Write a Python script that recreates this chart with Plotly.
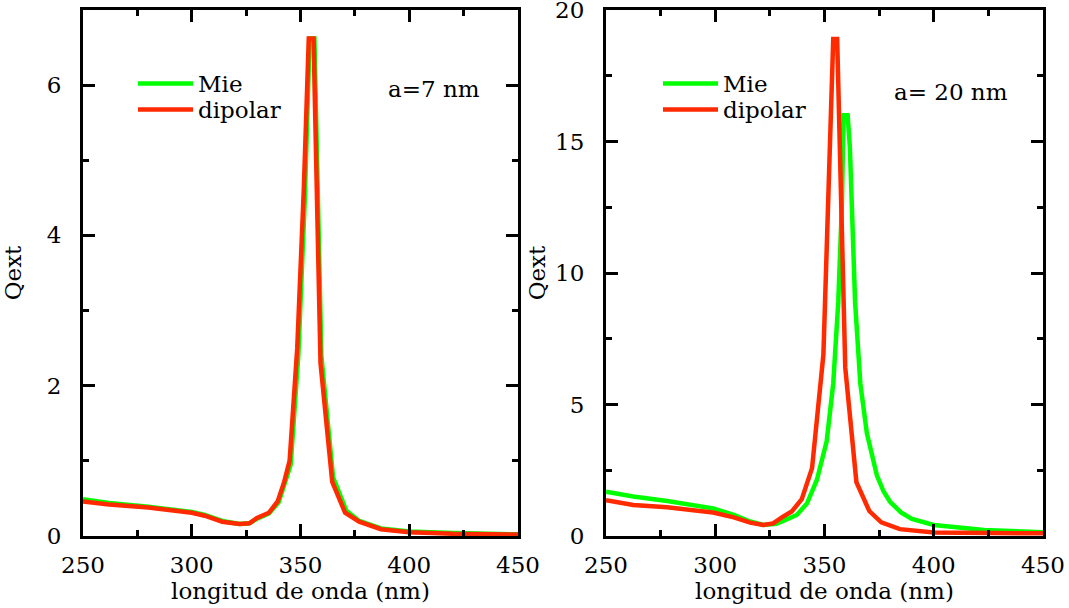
import plotly.graph_objects as go

# ---- data: a = 7 nm ----
wl_7_mie = [250, 262, 280, 300, 306, 314, 322, 326.5, 330, 335.5, 340, 343, 345.5, 349, 352, 354.2, 356.4, 359.6, 365, 371, 377, 387, 400, 420, 450]
q_7_mie = [0.49, 0.44, 0.39, 0.32, 0.28, 0.20, 0.16, 0.17, 0.23, 0.30, 0.45, 0.70, 0.95, 2.4, 4.5, 6.62, 6.62, 2.4, 0.78, 0.34, 0.20, 0.10, 0.06, 0.04, 0.02]

wl_7_dip = [250, 262, 280, 300, 306, 314, 322, 326.5, 330, 335.5, 339.5, 342.5, 345, 348.5, 351.5, 353.8, 356, 359.2, 364.6, 370.5, 377, 387, 400, 420, 450]
q_7_dip = [0.46, 0.42, 0.38, 0.31, 0.27, 0.19, 0.16, 0.17, 0.24, 0.31, 0.46, 0.72, 1.0, 2.5, 4.6, 6.62, 6.62, 2.3, 0.72, 0.31, 0.19, 0.09, 0.05, 0.03, 0.02]

# ---- data: a = 20 nm ----
wl_20_mie = [250, 262.5, 278, 293, 299, 308.5, 316, 322, 328, 332.7, 337.3, 342, 346.5, 351, 354, 356.3, 358, 358.7, 360.6, 361.6, 364, 366.4, 369.4, 374, 377, 380, 385, 390, 400, 423, 450]
q_20_mie = [1.68, 1.5, 1.33, 1.14, 1.05, 0.8, 0.55, 0.42, 0.46, 0.63, 0.8, 1.24, 2.13, 3.6, 5.8, 8.9, 12.7, 16.0, 16.0, 14.8, 8.9, 5.8, 3.9, 2.3, 1.7, 1.3, 0.9, 0.65, 0.42, 0.23, 0.14]

wl_20_dip = [250, 262.5, 278, 299, 308.5, 316, 322, 326.5, 330.5, 335, 339.6, 344.3, 349.5, 354, 355.8, 359.5, 364.6, 370.5, 376, 384.5, 400, 450]
q_20_dip = [1.36, 1.18, 1.09, 0.89, 0.71, 0.51, 0.42, 0.48, 0.71, 0.93, 1.4, 2.58, 6.9, 18.9, 18.9, 6.4, 2.05, 0.95, 0.52, 0.26, 0.13, 0.10]

series_names = ["Mie", "dipolar"]
labels_size = ["a=7 nm", "a= 20 nm"]
x_title = "longitud de onda (nm)"
y_title = "Qext"

GREEN = "#00ff00"
RED = "#ff2a00"
FONT = "DejaVu Serif"
LW = 4.5
FS = 23

W, H = 1069, 608
def px_x(p): return p / W
def px_y(p): return (H - p) / H

fig = go.Figure()
traces = [
    (wl_7_mie, q_7_mie, series_names[0], GREEN, "x", "y", "legend"),
    (wl_7_dip, q_7_dip, series_names[1], RED, "x", "y", "legend2"),
    (wl_20_mie, q_20_mie, series_names[0], GREEN, "x2", "y2", "legend3"),
    (wl_20_dip, q_20_dip, series_names[1], RED, "x2", "y2", "legend4"),
]
for xs, ys, nm, col, xa, ya, lg in traces:
    fig.add_trace(go.Scatter(x=xs, y=ys, mode="lines", name=nm, line=dict(color=col, width=LW),
                             xaxis=xa, yaxis=ya, legend=lg))

axis_common = dict(showline=True, linecolor="black", linewidth=3, mirror="allticks",
                   ticks="inside", ticklen=12, tickwidth=3, tickcolor="black",
                   showgrid=False, zeroline=False, automargin=False, ticklabeloverflow="allow",
                   tickfont=dict(family=FONT, size=FS, color="black"),
                   title_font=dict(family=FONT, size=FS, color="black"))

xaxis_common = dict(axis_common, range=[250, 450], tickmode="linear", tick0=250, dtick=50,
                    minor=dict(ticks="inside", ticklen=6, tickwidth=3, tickcolor="black", dtick=25, tick0=250, showgrid=False),
                    title=dict(text=x_title, standoff=6), ticklabelstandoff=6)

def legend_at(x_px, y_px):
    return dict(x=px_x(x_px), y=px_y(y_px), xanchor="left", yanchor="top", bgcolor="rgba(0,0,0,0)",
                font=dict(family=FONT, size=FS, color="black"), itemwidth=55)

fig.update_layout(
    width=W, height=H,
    margin=dict(l=0, r=0, t=0, b=0),
    paper_bgcolor="white", plot_bgcolor="white",
    font=dict(family=FONT, size=FS, color="black"),
    xaxis=dict(xaxis_common, domain=[px_x(83), px_x(518)], anchor="y"),
    yaxis=dict(axis_common, domain=[px_y(536), px_y(10)], anchor="x", range=[0, 7],
               tickmode="array", tickvals=[0, 2, 4, 6],
               minor=dict(ticks="inside", ticklen=6, tickwidth=3, tickcolor="black", tickvals=[1, 3, 5], showgrid=False),
               title=dict(text=y_title, standoff=22), ticklabelstandoff=14),
    xaxis2=dict(xaxis_common, domain=[px_x(606), px_x(1043)], anchor="y2"),
    yaxis2=dict(axis_common, domain=[px_y(536), px_y(10)], anchor="x2", range=[0, 20],
                tickmode="linear", tick0=0, dtick=5,
                minor=dict(ticks="inside", ticklen=6, tickwidth=3, tickcolor="black", dtick=2.5, showgrid=False),
                title=dict(text=y_title, standoff=4), ticklabelstandoff=14),
    legend=legend_at(133, 62),
    legend2=legend_at(133, 88),
    legend3=legend_at(658, 62),
    legend4=legend_at(658, 88),
    showlegend=True,
)

fig.add_annotation(x=411.5, y=5.95, xref="x", yref="y", text=labels_size[0], showarrow=False,
                   font=dict(family=FONT, size=FS, color="black"))
fig.add_annotation(x=408, y=16.9, xref="x2", yref="y2", text=labels_size[1], showarrow=False,
                   font=dict(family=FONT, size=FS, color="black"))

fig.write_html("out.html", config={"displayModeBar": False},
               post_script="document.body.style.margin='0';")
